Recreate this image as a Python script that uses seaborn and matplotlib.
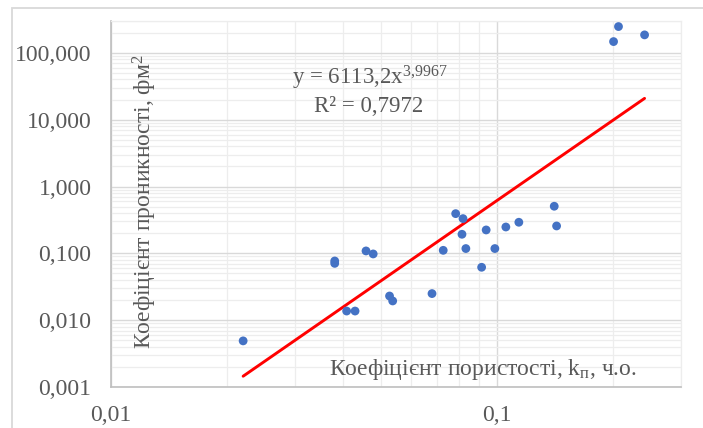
import matplotlib
matplotlib.use("Agg")
import matplotlib.pyplot as plt
import matplotlib.ticker as mticker
from matplotlib.patches import Rectangle
import numpy as np
import pandas as pd
import seaborn as sns

# Porosity (fraction) and permeability (fm^2) of core samples
porosity = [0.0220, 0.0380, 0.0380, 0.0458, 0.0478, 0.0408, 0.0429, 0.0527,
            0.0537, 0.0679, 0.0726, 0.0782, 0.0817, 0.0812, 0.0831, 0.0938,
            0.0913, 0.0988, 0.1055, 0.1140, 0.1408, 0.1428, 0.2066, 0.2006,
            0.2414]
permeability = [0.0049, 0.0769, 0.0708, 0.1087, 0.0980, 0.0137, 0.0137, 0.0230,
                0.0194, 0.0250, 0.1110, 0.393, 0.331, 0.193, 0.118, 0.224,
                0.0619, 0.118, 0.248, 0.292, 0.507, 0.257, 247.7, 147.6,
                186.0]

# Power trend line coefficients
trend_a = 6113.2
trend_b = 3.9967
r_squared = "0,7972"

x_ticks = [0.01, 0.1]
x_tick_labels = ["0,01", "0,1"]
y_ticks = [0.001, 0.01, 0.1, 1, 10, 100]
y_tick_labels = ["0,001", "0,010", "0,100", "1,000", "10,000", "100,000"]

sns.set_theme(style="white")
plt.rcParams["font.family"] = ["Liberation Serif", "DejaVu Serif"]
plt.rcParams["mathtext.fontset"] = "custom"
plt.rcParams["mathtext.rm"] = "Liberation Serif"
plt.rcParams["mathtext.it"] = "Liberation Serif:italic"

W, H = 703, 428
fig = plt.figure(figsize=(W / 100, H / 100), dpi=100)
fig.patch.set_facecolor("white")

# chart-area border
fig.patches.append(Rectangle((12 / W, -0.05), 1.2, 1 - 8 / H + 0.05,
                             transform=fig.transFigure, fill=False,
                             edgecolor="#d9d9d9", linewidth=1.3, zorder=0))

left, right, top, bottom = 111, 681, 21, 387
ax = fig.add_axes([left / W, 1 - bottom / H, (right - left) / W, (bottom - top) / H])
ax.set_xscale("log")
ax.set_yscale("log")
ax.set_xlim(0.01, 0.3)
ax.set_ylim(0.001, 300)

df = pd.DataFrame({"kp": porosity, "perm": permeability})
sns.scatterplot(data=df, x="kp", y="perm", ax=ax, color="#4472C4", s=40,
                edgecolor="none", zorder=4, legend=False)

x_fit = np.geomspace(min(porosity), max(porosity), 100)
trend = pd.DataFrame({"kp": x_fit, "perm": trend_a * x_fit ** trend_b})
sns.lineplot(data=trend, x="kp", y="perm", ax=ax, color="#FF0000",
             linewidth=2.1, zorder=3)

grey = "#595959"
fs = 17
ax.set_xticks(x_ticks)
ax.set_xticklabels(x_tick_labels)
ax.set_yticks(y_ticks)
ax.set_yticklabels(y_tick_labels)
ax.xaxis.set_minor_locator(mticker.LogLocator(base=10, subs=np.arange(2, 10), numticks=20))
ax.yaxis.set_minor_locator(mticker.LogLocator(base=10, subs=np.arange(2, 10), numticks=30))
ax.xaxis.set_minor_formatter(mticker.NullFormatter())
ax.yaxis.set_minor_formatter(mticker.NullFormatter())
ax.tick_params(which="both", length=0, labelsize=fs, labelcolor=grey)
ax.tick_params(axis="y", pad=14)
ax.tick_params(axis="x", pad=13)

ax.grid(which="major", color="#d9d9d9", linewidth=1.0)
ax.grid(which="minor", color="#ededed", linewidth=0.9)
ax.set_axisbelow(True)
for side in ["left", "bottom"]:
    ax.spines[side].set_color("#bfbfbf")
    ax.spines[side].set_linewidth(1.2)
for side in ["top", "right"]:
    ax.spines[side].set_color("#ededed")
    ax.spines[side].set_linewidth(0.9)

ax.set_xlabel("")
ax.set_ylabel("")

def px(x, y):
    return x / W, 1 - y / H

fig.text(*px(483, 369), "Коефіцієнт пористості, k$_{\\mathrm{п}}$, ч.о.",
         ha="center", va="center", fontsize=fs, color=grey)
fig.text(*px(145, 202), "Коефіцієнт проникності, фм$^{2}$",
         ha="center", va="center", rotation=90, fontsize=fs, color=grey)

fig.text(*px(370, 78), "y = 6113,2x$^{\\mathrm{3{,}9967}}$",
         ha="center", va="center", fontsize=16.5, color=grey)
fig.text(*px(369, 107), "R² = " + r_squared,
         ha="center", va="center", fontsize=16.5, color=grey)

fig.savefig("out.png", dpi=100)
